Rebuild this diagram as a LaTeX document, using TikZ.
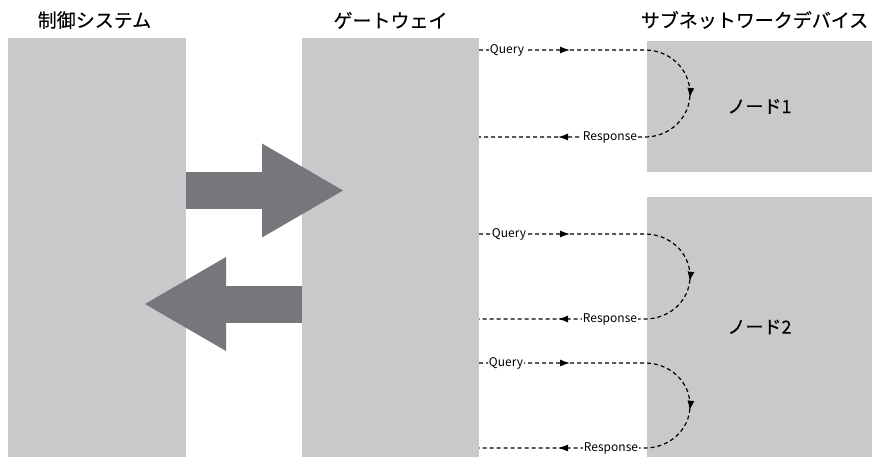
\documentclass[tikz,border=0pt]{standalone}
\usepackage{fontspec}
\setmainfont{Noto Sans CJK JP}
\newfontfamily\jpfont[FakeBold=0.4]{Noto Sans CJK JP}
\usetikzlibrary{positioning,arrows.meta,decorations.markings}
\definecolor{boxgray}{RGB}{200,201,203}
\definecolor{arrowgray}{RGB}{118,119,123}

\begin{document}
\begin{tikzpicture}[x=1pt, y=-1pt,
    box/.style = {fill=boxgray, inner sep=0pt, outer sep=0pt, font=\jpfont\fontsize{18}{20}\selectfont},
    title/.style = {inner sep=0pt, font=\jpfont\fontsize{19}{21}\selectfont},
    bigarrow/.style = {arrowgray, line width=37pt, -{Triangle[length=81pt, width=94pt, line width=0pt]}},
    flow/.style = {line width=1.2pt, dash pattern=on 4pt off 3pt},
    loop/.style = {flow, postaction={decorate}, decoration={markings,
        mark=at position 91pt with {\arrow{Latex[length=10pt, width=7pt]}},
        mark=at position 240pt with {\arrow{Latex[length=10pt, width=7pt]}},
        mark=at position -79pt with {\arrow{Latex[length=10pt, width=7pt]}}}},
    tag/.style = {fill=white, inner sep=1pt, font=\fontsize{12}{14}\selectfont}]
  \useasboundingbox (0,0) rectangle (872,457);
  % boxes
  \node[box, minimum width=178pt, minimum height=419pt] (ctrl) at (97,247.5) {};
  \node[box, minimum width=177pt, minimum height=419pt, right=116pt of ctrl] (gw) {};
  \node[box, minimum width=225pt, minimum height=131pt] (node1) at (759.5,106.5) {ノード1};
  \node[box, minimum width=225pt, minimum height=260pt, below=25pt of node1] (node2) {ノード2};
  % titles
  \node[title, above=9pt of ctrl, xshift=-2.5pt] (tctrl) {制御システム};
  \node[title, above=9pt of gw] (tgw) {ゲートウェイ};
  \node[title, above=12pt of node1, xshift=-5pt] (tsub) {サブネットワークデバイス};
  % big arrows
  \draw[bigarrow] (ctrl.east |- 0,190.5) -- ++(157,0);
  \draw[bigarrow] (gw.west |- 0,304) -- ++(-157,0);
  % query / response
  \coordinate (q1) at (645,50);  \coordinate (t1) at (690,93.5);  \coordinate (r1) at (645,137);
  \coordinate (q2) at (645,234); \coordinate (t2) at (690,276.5); \coordinate (r2) at (645,319);
  \coordinate (q3) at (645,363); \coordinate (t3) at (690,405.5); \coordinate (r3) at (645,448);
  \draw[loop] (gw.east |- q1) -- (q1) to[out=0, in=90] (t1) to[out=-90, in=0] (r1) -- (gw.east |- r1);
  \draw[loop] (gw.east |- q2) -- (q2) to[out=0, in=90] (t2) to[out=-90, in=0] (r2) -- (gw.east |- r2);
  \draw[loop] (gw.east |- q3) -- (q3) to[out=0, in=90] (t3) to[out=-90, in=0] (r3) -- (gw.east |- r3);
  \node[tag] (qa) at (507,50) {Query};
  \node[tag] (ra) at (610,137) {Response};
  \node[tag] (qb) at (509,234) {Query};
  \node[tag] (rb) at (610,319) {Response};
  \node[tag] (qc) at (506,363) {Query};
  \node[tag] (rc) at (611,448) {Response};
\end{tikzpicture}
\end{document}
